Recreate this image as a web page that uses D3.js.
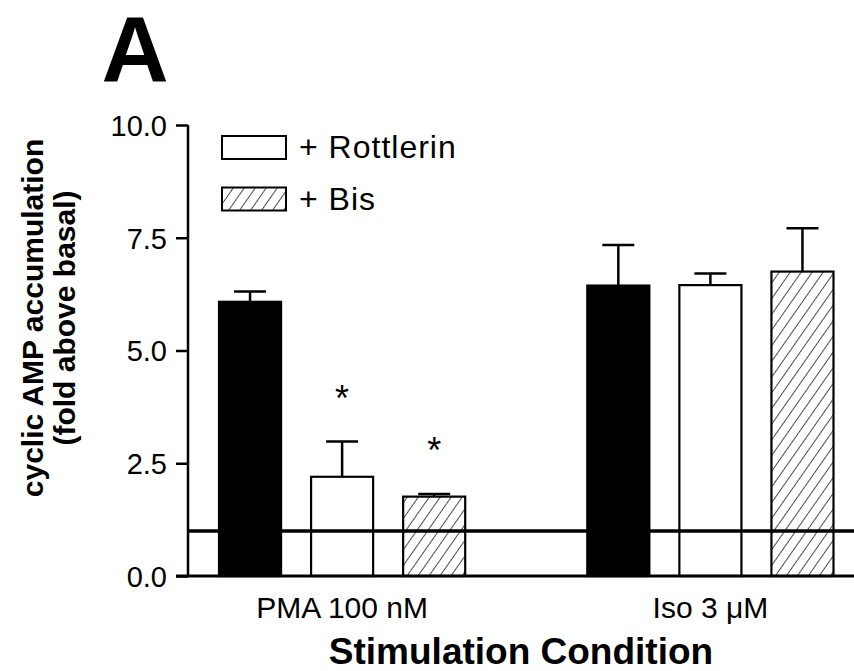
<html>
<head>
<meta charset="utf-8">
<style>
  body { margin: 0; background: #fff; }
  text { font-family: "Liberation Sans", Arial, sans-serif; fill: #000; }
</style>
</head>
<body>
<script src="https://cdn.jsdelivr.net/npm/d3@7"></script>
<script>
// data
var groups = ["PMA 100 nM", "Iso 3 \u03bcM"];
var series = ["Control", "+ Rottlerin", "+ Bis"];
var pmaMeans = [6.08, 2.20, 1.76];
var pmaErr   = [0.23, 0.78, 0.06];
var isoMeans = [6.44, 6.45, 6.75];
var isoErr   = [0.90, 0.26, 0.96];
var pmaStars = [false, true, true];
var isoStars = [false, false, false];
var yTicks = [0, 2.5, 5, 7.5, 10];
var basal = 1.0;

var W = 854, H = 671;
var plotL = 188, plotR = 854, plotT = 125, plotB = 576;

var rows = [];
[[pmaMeans, pmaErr, pmaStars], [isoMeans, isoErr, isoStars]].forEach(function(g, gi){
  series.forEach(function(s, si){
    rows.push({group: groups[gi], series: s, mean: g[0][si], err: g[1][si], star: g[2][si]});
  });
});

var svg = d3.select("body").append("svg").attr("width", W).attr("height", H);

var defs = svg.append("defs");
var pat = defs.append("pattern")
  .attr("id", "hatch")
  .attr("patternUnits", "userSpaceOnUse")
  .attr("width", 9).attr("height", 9)
  .attr("patternTransform", "rotate(35)");
pat.append("rect").attr("width", 9).attr("height", 9).attr("fill", "#fff");
pat.append("line").attr("x1", 0).attr("y1", 0).attr("x2", 0).attr("y2", 9)
  .attr("stroke", "#000").attr("stroke-width", 1.4);

var fills = {"Control": "#000", "+ Rottlerin": "#fff", "+ Bis": "url(#hatch)"};

var y = d3.scaleLinear().domain([0, 10]).range([plotB, plotT]);
var x0 = d3.scaleBand().domain(groups).range([204, 848.5]).paddingInner(0.25).paddingOuter(0);
var x1 = d3.scaleBand().domain(series).range([0, x0.bandwidth()]).paddingInner(0.326).paddingOuter(0.163);

// big panel letter
svg.append("text").attr("x", 135).attr("y", 81).attr("text-anchor", "middle")
  .attr("font-size", 93).attr("font-weight", "bold").text("A");

// bars
var bars = svg.append("g").selectAll("g").data(rows).enter().append("g")
  .attr("transform", function(d){ return "translate(" + (x0(d.group) + x1(d.series)) + ",0)"; });

// error bars (upper only)
bars.append("line")
  .attr("x1", x1.bandwidth()/2).attr("x2", x1.bandwidth()/2)
  .attr("y1", function(d){ return y(d.mean); })
  .attr("y2", function(d){ return y(d.mean + d.err); })
  .attr("stroke", "#000").attr("stroke-width", 2.5);
bars.append("line")
  .attr("x1", x1.bandwidth()/2 - 16).attr("x2", x1.bandwidth()/2 + 16)
  .attr("y1", function(d){ return y(d.mean + d.err); })
  .attr("y2", function(d){ return y(d.mean + d.err); })
  .attr("stroke", "#000").attr("stroke-width", 2.5);

bars.append("rect")
  .attr("x", 0).attr("width", x1.bandwidth())
  .attr("y", function(d){ return y(d.mean); })
  .attr("height", function(d){ return y(0) - y(d.mean); })
  .attr("fill", function(d){ return fills[d.series]; })
  .attr("stroke", "#000").attr("stroke-width", 2.2);

bars.filter(function(d){ return d.star; }).append("text")
  .attr("x", x1.bandwidth()/2)
  .attr("y", function(d){ return y(d.mean + d.err) - 52 + 21; })
  .attr("text-anchor", "middle").attr("font-size", 36)
  .text("*");

// basal line
svg.append("line")
  .attr("x1", plotL).attr("x2", plotR)
  .attr("y1", y(basal)).attr("y2", y(basal))
  .attr("stroke", "#000").attr("stroke-width", 3.5);

// axes
var yAxis = svg.append("g").attr("transform", "translate(" + plotL + ",0)")
  .call(d3.axisLeft(y).tickValues(yTicks).tickFormat(d3.format(".1f")).tickSize(12).tickPadding(9));
yAxis.select(".domain").attr("d", "M0," + plotT + "V" + plotB).attr("stroke-width", 2.5);
yAxis.selectAll(".tick line").attr("stroke-width", 2.5);
yAxis.selectAll(".tick text").attr("font-size", 29).attr("font-family", "Liberation Sans, Arial, sans-serif").attr("dy", "0.36em");

var xAxis = svg.append("g").attr("transform", "translate(0," + plotB + ")")
  .call(d3.axisBottom(x0).tickSize(0).tickPadding(21));
xAxis.select(".domain").attr("d", "M" + (plotL - 12) + ",0H" + plotR).attr("stroke-width", 3);
xAxis.selectAll(".tick text").attr("font-size", 30).attr("font-family", "Liberation Sans, Arial, sans-serif");

// axis titles
svg.append("text").attr("x", 521).attr("y", 664).attr("text-anchor", "middle")
  .attr("font-size", 37).attr("font-weight", "bold").text("Stimulation Condition");

var yl = svg.append("text").attr("transform", "translate(43,318) rotate(-90)")
  .attr("text-anchor", "middle").attr("font-size", 30).attr("font-weight", "bold");
yl.append("tspan").attr("x", 0).attr("y", 0).text("cyclic AMP accumulation");
yl.append("tspan").attr("x", 0).attr("y", 32).text("(fold above basal)");

// legend
var legend = svg.append("g").selectAll("g").data(series.slice(1)).enter().append("g")
  .attr("transform", function(d, i){ return "translate(222," + (136 + i * 51.5) + ")"; });
legend.append("rect").attr("width", 64).attr("height", 23)
  .attr("fill", function(d){ return fills[d]; })
  .attr("stroke", "#000").attr("stroke-width", 2);
legend.append("text").attr("x", 77).attr("y", 22).attr("font-size", 32)
  .attr("letter-spacing", 1)
  .text(function(d){ return d; });
</script>
</body>
</html>
